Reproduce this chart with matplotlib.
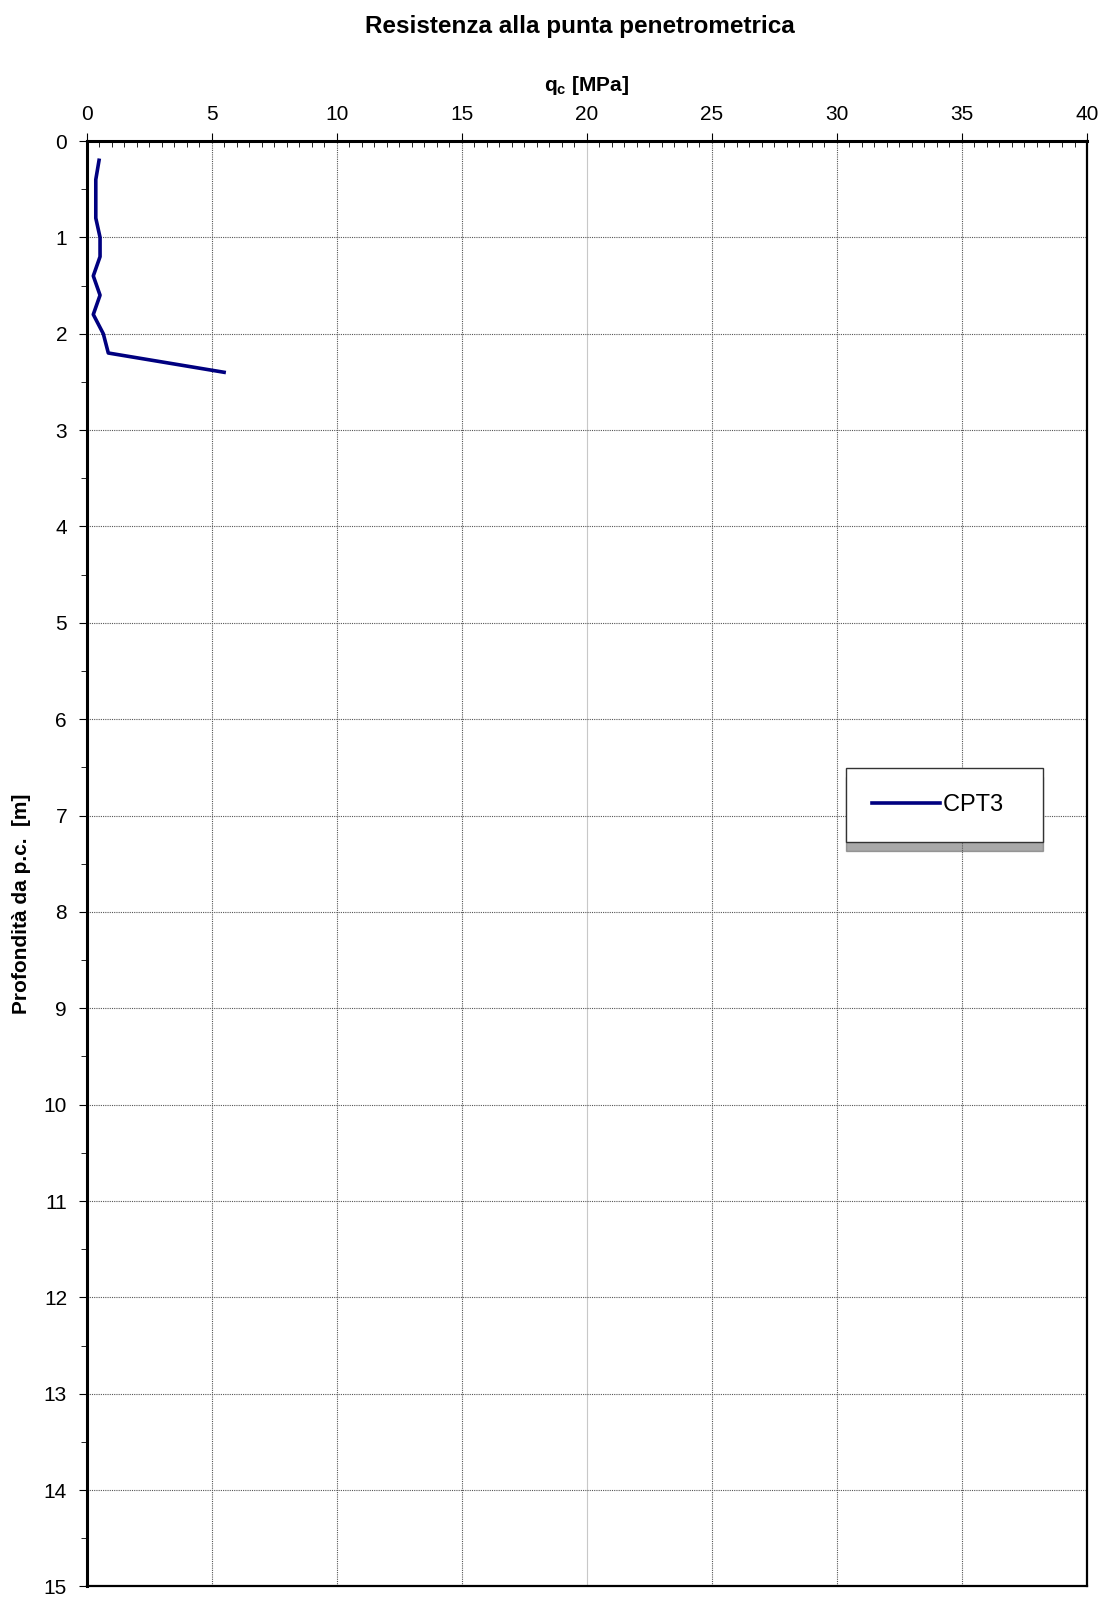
import matplotlib
matplotlib.use("Agg")
import matplotlib.pyplot as plt
from matplotlib.ticker import MultipleLocator

plt.rcParams['font.family'] = ['Liberation Sans', 'DejaVu Sans']

# CPT3 profile: tip resistance qc [MPa] vs depth [m]
depth = [0.2, 0.4, 0.8, 1.0, 1.2, 1.4, 1.6, 1.8, 2.0, 2.2, 2.4]
qc = [0.5, 0.37, 0.37, 0.54, 0.54, 0.27, 0.54, 0.27, 0.67, 0.87, 5.5]
series_name = "CPT3"

fig = plt.figure(figsize=(11.01, 15.97), dpi=100)
ax = fig.add_axes([0.0786, 0.0066, 0.9087, 0.9051])

ax.plot(qc, depth, color='#000080', lw=2.6, label=series_name, zorder=3)

ax.set_xlim(0, 40)
ax.set_ylim(15, 0)
ax.xaxis.set_major_locator(MultipleLocator(5))
ax.xaxis.set_minor_locator(MultipleLocator(0.5))
ax.yaxis.set_major_locator(MultipleLocator(1))
ax.yaxis.set_minor_locator(MultipleLocator(0.5))
ax.xaxis.tick_top()
ax.xaxis.set_label_position('top')

ax.tick_params(axis='x', which='major', direction='out', length=6, labelsize=15, pad=6)
ax.tick_params(axis='x', which='minor', direction='in', length=4)
ax.tick_params(axis='y', which='major', direction='out', length=6, labelsize=15, pad=8)
ax.tick_params(axis='y', which='minor', direction='out', length=4)

ax.grid(True, which='major', color='#555555', linestyle=(0, (1, 1)), lw=0.8)
# the 20 MPa line looks lighter/solid in the reference
for gl, v in zip(ax.get_xgridlines(), ax.get_xticks()):
    if abs(v - 20) < 1e-6:
        gl.set_linestyle('-')
        gl.set_color('#c8c8c8')

for side in ['left', 'top']:
    ax.spines[side].set_linewidth(2.2)
for side in ['right', 'bottom']:
    ax.spines[side].set_linewidth(1.6)

ax.set_xlabel(r'q$_\mathregular{c}$ [MPa]', fontsize=15, fontweight='bold', labelpad=10)
ax.set_ylabel('Profondità da p.c.  [m]', fontsize=15, fontweight='bold')
ax.yaxis.set_label_coords(-0.056, 0.472)
fig.suptitle('Resistenza alla punta penetrometrica', fontsize=17.5, fontweight='bold',
             x=0.527, y=0.9835, va='center')

leg = ax.legend(loc='upper left', bbox_to_anchor=(0.759, 0.566), fontsize=17,
                frameon=True, fancybox=False,
                shadow={'ox': 0, 'oy': -6, 'color': '#555555'},
                borderpad=1.1, handlelength=2.9, handletextpad=0.12,
                borderaxespad=0, labelspacing=0)
leg.get_texts()[0].set_text(series_name + '  ')
leg.get_frame().set_edgecolor('#333333')
leg.get_frame().set_linewidth(1.0)

fig.savefig('out.png', dpi=100)
